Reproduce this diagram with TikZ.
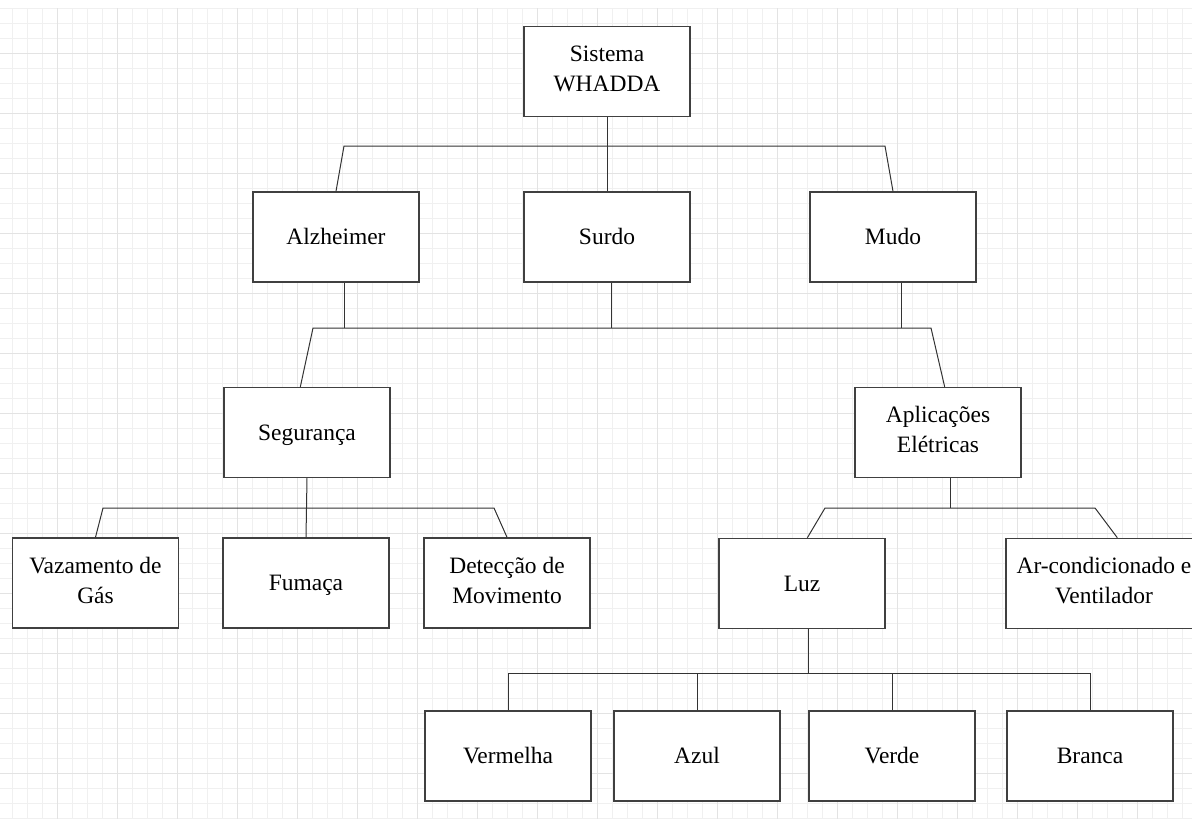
\documentclass[tikz,border=0pt]{standalone}
\usepackage{fontspec}
\setmainfont{Liberation Serif}
\begin{document}
\begin{tikzpicture}[x=0.75pt,y=0.75pt,yscale=-1,xscale=1,
    box/.style={draw=black!75, line width=1.1pt, fill=white, minimum width=124.5pt, minimum height=67.5pt,
      inner sep=0pt, align=center, font=\fontsize{17.6pt}{22.5pt}\selectfont,
      execute at begin node={\rule{0pt}{15.8pt}}, execute at end node={\rule[-4.2pt]{0pt}{4.2pt}}},
    link/.style={draw=black!80, line width=0.75pt}]
    \useasboundingbox (0,0) rectangle (1192,819);
    \clip (0,0) rectangle (1192,819);
    %Background grid
    \draw [color=black!6, line width=0.6pt, shift={(12,8)}] (-12,0) grid [step=15] (1180,811);
    \draw [color=black!11, line width=0.6pt, shift={(57,53)}] (-57,-45) grid [step=60] (1135,766);

    %Shape: Rectangle (top)
    \node [box] (root) at (607,71.5) {Sistema\\WHADDA};
    %Shape: Rectangle (level 1)
    \node [box] (alz) at (336,237) {Alzheimer};
    \node [box] (surdo) at (607,237) {Surdo};
    \node [box] (mudo) at (893,237) {Mudo};
    %Shape: Rectangle (level 2)
    \node [box] (seg) at (307,432.5) {Segurança};
    \node [box] (apl) at (938,432.5) {Aplicações\\Elétricas};
    %Shape: Rectangle (level 3)
    \node [box] (vaz) at (95.5,583) {Vazamento de\\Gás};
    \node [box] (fum) at (306,583) {Fumaça};
    \node [box] (det) at (507,583) {Detecção de\\Movimento};
    \node [box] (luz) at (802,583.5) {Luz};
    \node [box, minimum width=147pt] (ar) at (1104,583.5) {Ar-condicionado e\\Ventilador};
    %Shape: Rectangle (level 4)
    \node [box] (verm) at (508,756) {Vermelha};
    \node [box] (azul) at (697,756) {Azul};
    \node [box] (verde) at (892,756) {Verde};
    \node [box] (branca) at (1090,756) {Branca};

    %Straight Lines (bus points)
    \coordinate (b1l) at (344,146);
    \coordinate (b1r) at (885,146);
    \coordinate (b2l) at (313,328);
    \coordinate (b2r) at (931,328);
    \coordinate (b3l) at (103,508);
    \coordinate (b3r) at (494,508);
    \coordinate (b4l) at (825,508);
    \coordinate (b4r) at (1095,508);
    \coordinate (b5) at (0,673);

    %Straight Lines (Sistema)
    \draw [link] (root.south) -- (root.south |- b1l);
    \draw [link] (alz.north) -- (b1l) -- (b1r) -- (mudo.north);
    \draw [link] (root.south |- b1l) -- (surdo.north);
    %Straight Lines (Alzheimer, Surdo, Mudo)
    \draw [link] ([xshift=6pt]alz.south) -- ([xshift=6pt]alz.south |- b2l);
    \draw [link] ([xshift=3pt]surdo.south) -- ([xshift=3pt]surdo.south |- b2l);
    \draw [link] ([xshift=6pt]mudo.south) -- ([xshift=6pt]mudo.south |- b2l);
    \draw [link] ([xshift=-5pt]seg.north) -- (b2l) -- (b2r) -- ([xshift=5pt]apl.north);
    %Straight Lines (Segurança)
    \draw [link] (seg.south) -- (fum.north);
    \draw [link] (vaz.north) -- (b3l) -- (b3r) -- (det.north);
    %Straight Lines (Aplicações)
    \draw [link] ([xshift=9pt]apl.south) -- ([xshift=9pt]apl.south |- b4l);
    \draw [link] ([xshift=4pt]luz.north) -- (b4l) -- (b4r) -- ([xshift=10pt]ar.north);
    %Straight Lines (Luz)
    \draw [link] ([xshift=5pt]luz.south) -- ([xshift=5pt]luz.south |- b5);
    \draw [link] (verm.north) -- (verm.north |- b5) -- (branca.north |- b5) -- (branca.north);
    \draw [link] (azul.north) -- (azul.north |- b5);
    \draw [link] (verde.north) -- (verde.north |- b5);
\end{tikzpicture}
\end{document}
